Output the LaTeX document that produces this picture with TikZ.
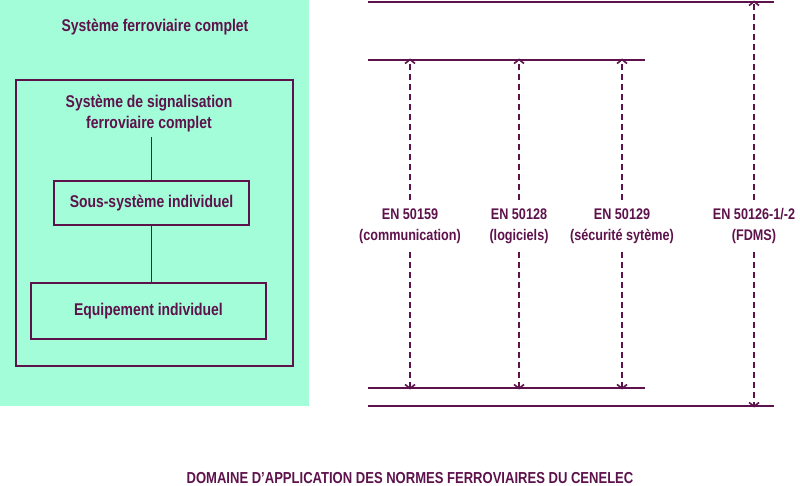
\documentclass[tikz,border=0pt]{standalone}
\usepackage{fontspec}
\setmainfont[FakeStretch=0.82]{Liberation Sans}
\usetikzlibrary{positioning,arrows.meta}
\definecolor{prune}{RGB}{94,18,76}
\definecolor{menthe}{RGB}{164,253,217}

\begin{document}
\begin{tikzpicture}[x=1pt,y=-1pt,
    line width=1.6pt, draw=prune,
    txt/.style={text=prune, font=\bfseries\fontsize{17}{21}\selectfont, align=center, inner sep=0pt},
    boite/.style={rectangle, draw=prune, line width=1.4pt, txt},
    norme/.style={txt, font=\bfseries\fontsize{15.4}{21}\selectfont, fill=white, inner sep=2pt},
    fleche/.style={prune, dashed, dash pattern=on 6pt off 4pt, -{Straight Barb[length=4pt,width=10pt]}},
    rail/.style={prune, line width=1.6pt}
    ]
\useasboundingbox (0,0) rectangle (800,486);

% bloc de gauche
\fill[menthe] (0,0) rectangle (309,406);
\node[txt] (SFC) at (155,27) {Système ferroviaire complet};
\draw[prune, line width=1.4pt] (16,80) rectangle (293,366);
\node[txt] (SSF) at (149,114) {Système de signalisation\\ferroviaire complet};
\node[boite, minimum width=195pt, minimum height=44pt] (SSI) at (151.5,203) {Sous-système individuel};
\node[boite, minimum width=235pt, minimum height=56pt] (EQI) at (148.5,311) {Equipement individuel};
\draw[prune, line width=1.4pt] (SSF.south -| SSI.north) ++(0,4) -- (SSI.north);
\draw[prune, line width=1.4pt] (SSI.south) -- (SSI.south |- EQI.north);

% lignes horizontales
\coordinate (H1a) at (368,2);   \coordinate (H1b) at (774,2);
\coordinate (H2a) at (368,60);  \coordinate (H2b) at (645,60);
\coordinate (B2a) at (368,388); \coordinate (B2b) at (645,388);
\coordinate (B1a) at (368,406); \coordinate (B1b) at (774,406);
\draw[rail] (H1a) -- (H1b);
\draw[rail] (H2a) -- (H2b);
\draw[rail] (B2a) -- (B2b);
\draw[rail] (B1a) -- (B1b);

% normes
\node[norme] (N1) at (410,226) {EN 50159\\(communication)};
\node[norme] (N2) at (519,226) {EN 50128\\(logiciels)};
\node[norme] (N3) at (622,226) {EN 50129\\(sécurité sytème)};
\node[norme] (N4) at (754,226) {EN 50126-1/-2\\(FDMS)};

\foreach \n in {N1,N2,N3}{
  \draw[fleche] (\n.north) ++(0,-6) -- ([yshift=1.5pt]\n |- H2a);
  \draw[fleche] (\n.south) ++(0,6) -- ([yshift=-1.5pt]\n |- B2a);
}
\draw[fleche] (N4.north) ++(0,-6) -- ([yshift=1.5pt]N4 |- H1a);
\draw[fleche] (N4.south) ++(0,6) -- ([yshift=-1.5pt]N4 |- B1a);

% titre
\node[txt, font=\bfseries\fontsize{15.9}{20}\selectfont] (TIT) at (410,478)
  {DOMAINE D’APPLICATION DES NORMES FERROVIAIRES DU CENELEC};
\end{tikzpicture}
\end{document}
